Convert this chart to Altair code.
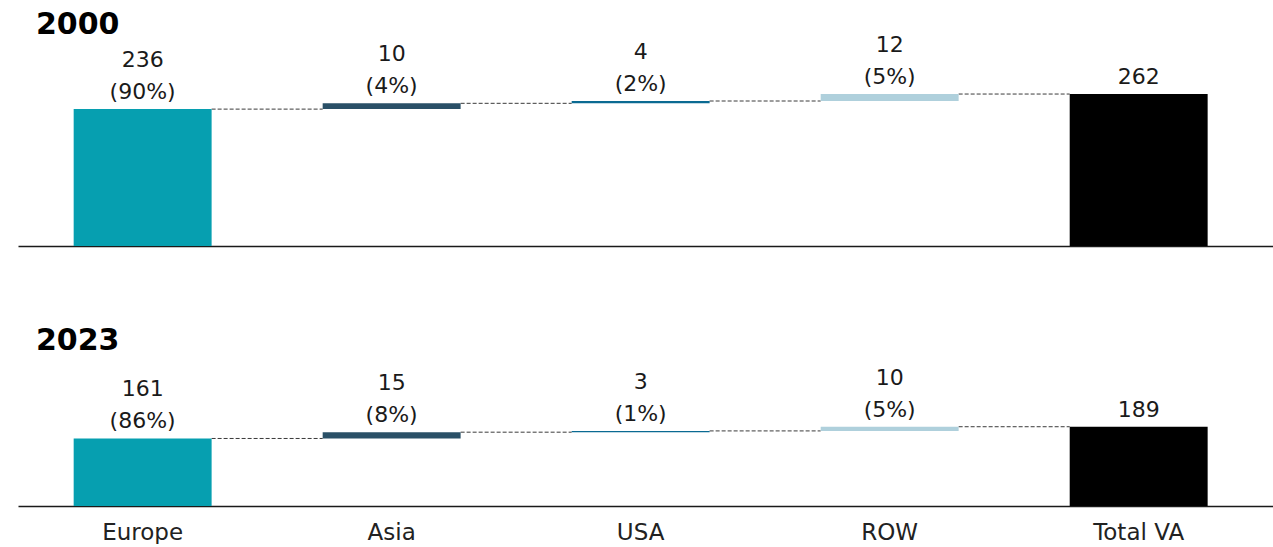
import altair as alt
import pandas as pd

# Value added by region, two snapshots, drawn as waterfalls ending in the total
categories = ["Europe", "Asia", "USA", "ROW", "Total VA"]
values_2000 = [236, 10, 4, 12, 262]
shares_2000 = [90, 4, 2, 5, None]
values_2023 = [161, 15, 3, 10, 189]
shares_2023 = [86, 8, 1, 5, None]
bar_colors = ["#069FB0", "#2A5067", "#0A6A92", "#AFD0DC", "#000000"]

FONT = "DejaVu Sans"
TOTAL = "Total VA"


def waterfall_frames(values, shares):
    """Floating bar extents, the two label lines and connector levels."""
    rows, links = [], []
    running = 0
    for i, (cat, v, s) in enumerate(zip(categories, values, shares)):
        if cat == TOTAL:
            start, end = 0, v
            upper, lower = "", f"{v}"
        else:
            start, end = running, running + v
            running = end
            upper, lower = f"{v}", f"({s}%)"
        rows.append(dict(cat=cat, start=start, end=end, upper=upper, lower=lower))
        if i > 0:
            links.append(dict(src=categories[i - 1], dst=cat, level=rows[i - 1]["end"]))
    return pd.DataFrame(rows), pd.DataFrame(links)


def panel(title, values, shares, y_max, height, title_offset, show_labels):
    bars_df, links_df = waterfall_frames(values, shares)

    x_scale = alt.Scale(domain=categories, paddingInner=0.446, paddingOuter=0.243, align=0.46)
    y_scale = alt.Scale(domain=[0, y_max], nice=False, zero=True)
    x_axis = alt.Axis(
        title=None, labels=show_labels, ticks=False, grid=False,
        domainColor="#1a1a1a", domainWidth=1.6,
        labelFont=FONT, labelFontSize=23, labelColor="#222222",
        labelPadding=15, labelAngle=0,
    )
    x_cat = alt.X("cat:N", scale=x_scale, axis=x_axis)
    y_top = alt.Y("end:Q", scale=y_scale, axis=None)

    bars = alt.Chart(bars_df).mark_bar().encode(
        x=x_cat,
        y=alt.Y("start:Q", scale=y_scale, axis=None),
        y2="end:Q",
        color=alt.Color("cat:N", scale=alt.Scale(domain=categories, range=bar_colors), legend=None),
    )

    links = alt.Chart(links_df).mark_rule(color="#3a3a3a", strokeDash=[4, 2], strokeWidth=1).encode(
        x=alt.X("src:N", bandPosition=1, scale=x_scale, axis=x_axis),
        x2=alt.X2("dst:N", bandPosition=0),
        y=alt.Y("level:Q", scale=y_scale, axis=None),
    )

    text_style = dict(font=FONT, fontSize=22, baseline="bottom", color="#1a1a1a")
    lower_text = alt.Chart(bars_df).mark_text(dy=-5, **text_style).encode(
        x=x_cat, y=y_top, text="lower:N"
    )
    upper_text = alt.Chart(bars_df).mark_text(dy=-37, **text_style).encode(
        x=x_cat, y=y_top, text="upper:N"
    )

    return alt.layer(links, bars, lower_text, upper_text).properties(
        width=1255,
        height=height,
        title=alt.TitleParams(
            title, anchor="start", frame="group", font=FONT, fontSize=30,
            fontWeight="bold", color="#000000", baseline="alphabetic",
            offset=title_offset, dx=18,
        ),
    )


top = panel("2000", values_2000, shares_2000, 350, 203, -30, False)
bottom = panel("2023", values_2023, shares_2023, 360, 151, -25, True)

chart = (
    alt.vconcat(top, bottom, spacing=109, bounds="flush")
    .properties(padding={"left": 18, "top": 10, "right": 0, "bottom": 0})
    .configure_view(stroke=None)
)

chart.save("out.html", embed_options={"renderer": "svg", "actions": False})
